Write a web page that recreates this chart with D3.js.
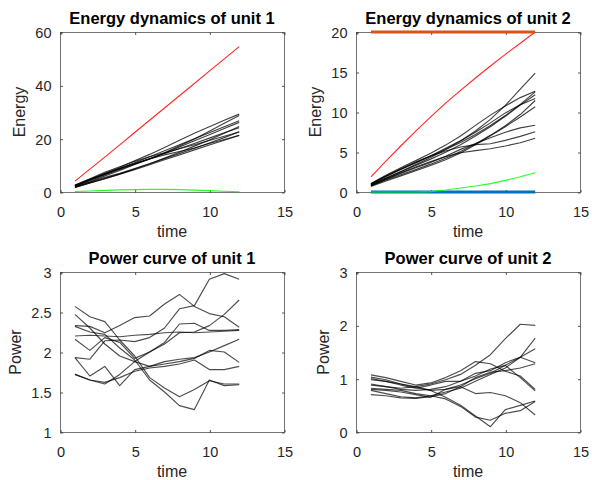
<!DOCTYPE html>
<html><head><meta charset="utf-8">
<script src="https://cdn.jsdelivr.net/npm/d3@7"></script>
<style>
html,body{margin:0;padding:0;background:#fff;}
svg{display:block;font-family:"Liberation Sans",Arial,sans-serif;}
</style></head>
<body>
<svg id="c" width="592" height="480"></svg>
<script>
const time = [1,2,3,4,5,6,7,8,9,10,11,12];
const xTicks = [0,5,10,15];

// Energy dynamics of unit 1
const energy1 = [
 [2.3,4.7,6.9,9.2,11.7,14.1,16.7,19.4,22.0,24.5,26.9,29.2],
 [1.9,3.8,6.0,8.1,10.3,12.4,14.7,17.3,19.9,22.8,25.8,28.7],
 [2.2,4.2,6.4,8.5,10.4,12.4,14.5,16.9,19.2,21.5,23.8,26.1],
 [2.2,4.4,6.6,8.8,11.0,13.2,15.5,17.7,20.0,22.2,24.5,26.7],
 [1.7,3.4,5.0,6.7,8.6,10.6,12.7,14.9,17.2,19.5,22.0,24.6],
 [1.9,3.6,5.5,7.0,8.8,10.6,12.5,14.4,16.4,18.4,20.4,22.6],
 [2.5,4.8,6.9,8.8,10.7,12.5,14.4,16.3,18.2,20.2,22.2,24.1],
 [1.7,3.4,5.0,6.7,8.4,10.2,12.1,13.9,15.8,17.6,19.4,21.2],
 [2.6,5.0,7.4,9.5,11.5,13.2,14.7,16.2,17.7,19.3,20.9,22.5],
 [2.3,4.6,6.8,8.8,10.7,12.4,13.9,15.2,16.5,18.2,19.7,21.3]
];
const energy1Max = [4.1,8.6,13.1,17.7,22.3,26.9,31.5,36.1,40.7,45.3,49.9,54.5];
const energy1Min = [0.2,0.4,0.6,0.8,0.9,1.0,1.0,0.9,0.7,0.5,0.3,0.1];
const energy1Ticks = [0,20,40,60];

// Energy dynamics of unit 2
const energy2 = [
 [0.90,1.75,2.57,3.42,4.32,5.30,6.38,7.63,9.08,10.83,12.85,14.85],
 [0.78,1.50,2.16,2.80,3.48,4.23,5.05,6.00,7.08,8.28,9.68,11.44],
 [1.03,2.01,2.91,3.74,4.52,5.32,6.20,7.20,8.30,9.55,10.95,12.51],
 [0.88,1.73,2.53,3.31,4.11,4.96,5.91,7.01,8.16,9.46,10.86,12.16],
 [0.70,1.38,2.02,2.65,3.31,4.03,4.88,5.90,7.02,8.17,9.37,10.65],
 [1.07,2.09,3.04,3.92,4.84,5.86,7.01,8.33,9.61,10.75,11.80,12.60],
 [0.98,1.93,2.81,3.63,4.51,5.46,6.41,7.46,8.64,9.89,10.91,11.68],
 [0.80,1.58,2.33,3.03,3.68,4.48,5.33,6.05,6.79,7.47,8.02,8.34],
 [1.00,1.95,2.85,3.70,4.48,5.13,5.63,5.93,6.03,6.45,6.95,7.53],
 [0.82,1.62,2.40,3.12,3.80,4.42,4.90,5.18,5.40,5.75,6.15,6.72]
];
const energy2Max = [1.9,3.85,5.75,7.6,9.4,11.1,12.7,14.25,15.75,17.2,18.6,20.0];
const energy2Min = [0,0,0,0,0.05,0.25,0.5,0.75,1.05,1.45,1.9,2.4];
const energy2Upper = [20,20,20,20,20,20,20,20,20,20,20,20];
const energy2Lower = [0,0,0,0,0,0,0,0,0,0,0,0];
const energy2Ticks = [0,5,10,15,20];

// Power curve of unit 1
const power1 = [
 [2.33,2.32,2.24,2.33,2.43,2.45,2.60,2.72,2.57,2.48,2.44,2.31],
 [1.93,1.91,2.14,2.15,2.13,2.18,2.30,2.54,2.58,2.91,2.98,2.91],
 [2.16,2.02,2.18,2.12,1.92,2.00,2.12,2.35,2.36,2.27,2.27,2.28],
 [2.20,2.21,2.20,2.19,2.21,2.22,2.24,2.25,2.24,2.25,2.26,2.27],
 [1.72,1.65,1.60,1.72,1.88,2.00,2.10,2.24,2.25,2.33,2.47,2.65],
 [1.93,1.70,1.82,1.58,1.78,1.82,1.88,1.91,1.93,2.00,2.08,2.16],
 [2.47,2.30,2.10,1.95,1.88,1.82,1.85,1.88,1.92,2.02,2.00,1.87],
 [1.72,1.65,1.62,1.68,1.76,1.80,1.82,1.85,1.90,1.78,1.78,1.82],
 [2.57,2.44,2.38,2.15,1.95,1.68,1.55,1.44,1.53,1.64,1.60,1.60],
 [2.32,2.25,2.22,2.05,1.90,1.65,1.50,1.33,1.28,1.65,1.58,1.59]
];
const power1Ticks = [1,1.5,2,2.5,3];

// Power curve of unit 2
const power2 = [
 [0.90,0.85,0.82,0.85,0.90,0.98,1.08,1.25,1.45,1.75,2.02,2.00],
 [0.78,0.72,0.66,0.64,0.68,0.75,0.82,0.95,1.08,1.20,1.40,1.76],
 [1.03,0.98,0.90,0.83,0.78,0.80,0.88,1.00,1.10,1.25,1.40,1.56],
 [0.88,0.85,0.80,0.78,0.80,0.85,0.95,1.10,1.15,1.30,1.40,1.30],
 [0.70,0.68,0.64,0.63,0.66,0.72,0.85,1.02,1.12,1.15,1.20,1.28],
 [1.07,1.02,0.95,0.88,0.92,1.02,1.15,1.32,1.28,1.14,1.05,0.80],
 [0.98,0.95,0.88,0.82,0.88,0.95,0.95,1.05,1.18,1.25,1.02,0.77],
 [0.80,0.78,0.75,0.70,0.65,0.80,0.85,0.72,0.74,0.68,0.55,0.32],
 [1.00,0.95,0.90,0.85,0.78,0.65,0.50,0.30,0.10,0.42,0.50,0.58],
 [0.82,0.80,0.78,0.72,0.68,0.62,0.48,0.28,0.22,0.35,0.40,0.57]
];
const power2Ticks = [0,1,2,3];

const titles = ["Energy dynamics of unit 1","Energy dynamics of unit 2","Power curve of unit 1","Power curve of unit 2"];
const yLabels = ["Energy","Energy","Power","Power"];
const xLabel = "time";

const svg = d3.select("#c");
const axisColor = "#262626";

const panels = [
  {left:60, top:32, w:224, h:160, yDom:[0,60], yTicks:energy1Ticks,
   series:[...energy1.map(v=>({v, c:"#000", w:1.15, o:0.75})),
           {v:energy1Max, c:"#ff0000", w:1.1, o:0.85},
           {v:energy1Min, c:"#00ff00", w:1.1, o:0.85}]},
  {left:356, top:32, w:224, h:160, yDom:[0,20], yTicks:energy2Ticks,
   series:[...energy2.map(v=>({v, c:"#000", w:1.15, o:0.75})),
           {v:energy2Max, c:"#ff0000", w:1.1, o:0.85},
           {v:energy2Upper, c:"#D95319", w:3, o:1},
           {v:energy2Lower, c:"#0072BD", w:3, o:1},
           {v:energy2Min, c:"#00ff00", w:1.1, o:0.85}]},
  {left:60, top:272, w:224, h:160, yDom:[1,3], yTicks:power1Ticks,
   series:power1.map(v=>({v, c:"#000", w:1.15, o:0.7}))},
  {left:356, top:272, w:224, h:160, yDom:[0,3], yTicks:power2Ticks,
   series:power2.map(v=>({v, c:"#000", w:1.15, o:0.7}))}
];

panels.forEach((p,i)=>{
  const g = svg.append("g").attr("transform",`translate(${p.left},${p.top})`);
  const x = d3.scaleLinear().domain([0,15]).range([0,p.w]);
  const y = d3.scaleLinear().domain(p.yDom).range([p.h,0]);
  const tl = 2.5;

  g.append("rect").attr("x",0.5).attr("y",0.5).attr("width",p.w).attr("height",p.h)
    .attr("fill","none").attr("stroke",axisColor).attr("stroke-width",0.8).attr("opacity",0.8);

  const fmt = d => String(d);
  const bottom = g.append("g").attr("transform",`translate(0.5,${p.h+0.5})`)
    .call(d3.axisBottom(x).tickValues(xTicks).tickSizeInner(-tl).tickSizeOuter(0).tickPadding(14).tickFormat(fmt));
  const top = g.append("g").attr("transform",`translate(0.5,0.5)`)
    .call(d3.axisTop(x).tickValues(xTicks).tickSizeInner(-tl).tickSizeOuter(0).tickFormat(""));
  const left = g.append("g").attr("transform",`translate(0.5,0.5)`)
    .call(d3.axisLeft(y).tickValues(p.yTicks).tickSizeInner(-tl).tickSizeOuter(0).tickPadding(9).tickFormat(fmt));
  const right = g.append("g").attr("transform",`translate(${p.w+0.5},0.5)`)
    .call(d3.axisRight(y).tickValues(p.yTicks).tickSizeInner(-tl).tickSizeOuter(0).tickFormat(""));
  [bottom,top,left,right].forEach(a=>{
    a.select(".domain").remove();
    a.selectAll(".tick line").attr("stroke",axisColor).attr("stroke-width",0.8);
    a.selectAll("text").attr("fill",axisColor).attr("font-size",14.5)
      .attr("font-family",'"Liberation Sans",Arial,sans-serif');
  });
  bottom.selectAll("text").attr("dy",null).attr("y",24.5);
  left.selectAll("text").attr("dy","0.35em");

  const line = d3.line().x((d,j)=>x(time[j])).y(d=>y(d));
  p.series.forEach(s=>{
    g.append("path").datum(s.v).attr("d",line).attr("fill","none")
      .attr("stroke",s.c).attr("stroke-width",s.w).attr("stroke-opacity",s.o)
      .attr("stroke-linejoin","round");
  });

  g.append("text").attr("x",p.w/2).attr("y",-8).attr("text-anchor","middle")
    .attr("font-weight","bold").attr("font-size",16.5).attr("fill","#000").text(titles[i]);
  g.append("text").attr("x",p.w/2).attr("y",p.h+45).attr("text-anchor","middle")
    .attr("font-size",16).attr("fill",axisColor).text(xLabel);
  let mw = 0;
  left.selectAll("text").each(function(){ mw = Math.max(mw, this.getComputedTextLength()); });
  const lx = -9 - mw - 10;
  g.append("text").attr("transform",`translate(${lx},${p.h/2}) rotate(-90)`)
    .attr("text-anchor","middle").attr("font-size",16).attr("fill",axisColor).text(yLabels[i]);
});
</script>
</body></html>
